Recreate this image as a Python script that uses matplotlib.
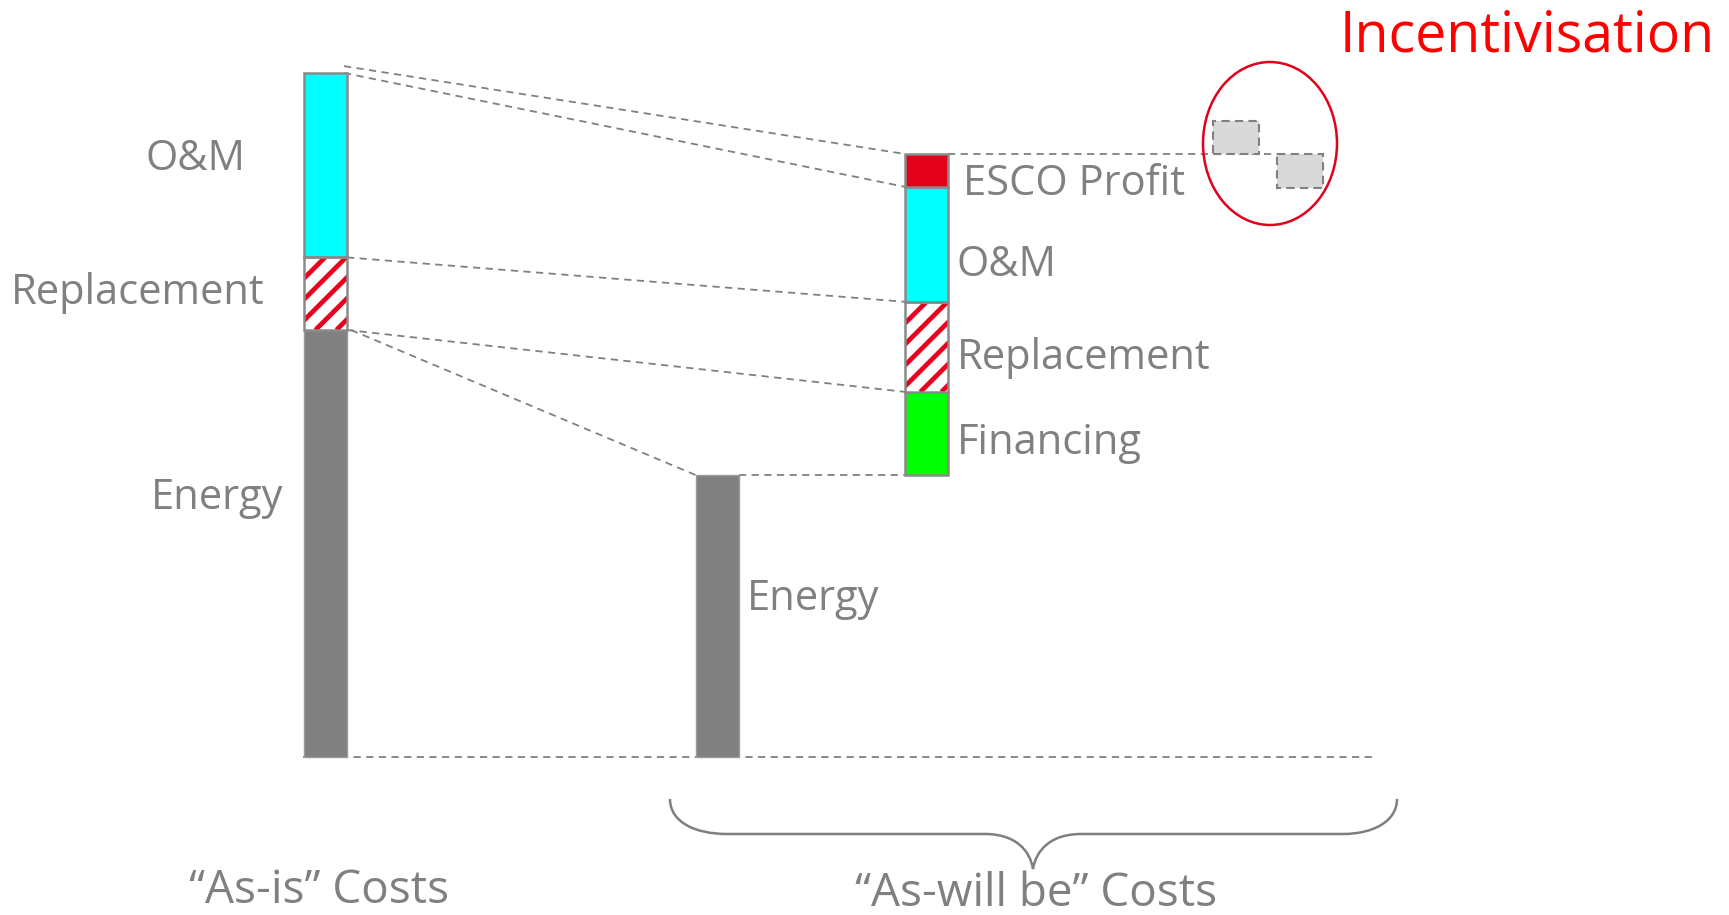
## Cost comparison: "As-is" vs "As-will be" (ESCO model)
import numpy as np
import matplotlib
matplotlib.use('Agg')
import matplotlib.pyplot as plt
from matplotlib.patches import Ellipse, PathPatch
from matplotlib.path import Path

## Data (arbitrary cost units)
as_is_labels = ['Energy', 'Replacement', 'O&M']
as_is_values = [100.0, 17.0, 43.2]

as_will_labels = ['Energy', 'Financing', 'Replacement', 'O&M', 'ESCO Profit']
as_will_values = [66.0, 19.5, 21.1, 26.9, 7.7]

incentive_values = [7.7, -8.0]   # bonus above / penalty below the profit line

group_labels = ['\u201cAs-is\u201d Costs', '\u201cAs-will be\u201d Costs']

## Styles
GREY = '#808080'
EDGE = '#8a8a8a'
seg_colors = {'Energy': '#808080', 'O&M': '#00ffff', 'Financing': '#00ff00',
              'ESCO Profit': '#e2001a', 'Replacement': 'white'}
HATCH_RED = '#e8001c'

plt.rcParams['font.family'] = ['Open Sans', 'DejaVu Sans']

## Pixel layout helpers (canvas is 1729 x 915 px)
W, H = 1729, 915
BASE_PX = 757.0
PX_PER_UNIT = 4.27
def yd(p):
    return (BASE_PX - p) / PX_PER_UNIT

fig = plt.figure(figsize=(W / 100, H / 100), dpi=100)
ax = fig.add_axes([0, 0, 1, 1])
ax.set_xlim(0, W)
ax.set_ylim(yd(H), yd(0))
ax.axis('off')

x_as_is = 325.5
x_energy_new = 717.5
x_as_will = 927.0
bar_w = 43.0


def stripes(x, bottom, height, step=21, lw=3.4):
    # red diagonal stripes clipped to the bar
    rect = ax.bar(x, height, bar_w, bottom=bottom, color='white', linewidth=0, zorder=2)[0]
    x0 = x - bar_w / 2
    h_px = height * PX_PER_UNIT
    for off in np.arange(-h_px - step, bar_w + step, step):
        xs = np.array([x0 + off, x0 + off + h_px + bar_w])
        ys = bottom + (xs - (x0 + off)) / PX_PER_UNIT
        ln, = ax.plot(xs, ys, color=HATCH_RED, linewidth=lw, solid_capstyle='butt', zorder=2)
        ln.set_clip_path(rect)


def draw_segment(x, bottom, height, name):
    if name == 'Replacement':
        stripes(x, bottom, height)
        ax.bar(x, height, bar_w, bottom=bottom, color='none', edgecolor=EDGE,
               linewidth=1.8, zorder=3)
    else:
        ax.bar(x, height, bar_w, bottom=bottom, color=seg_colors[name],
               edgecolor=EDGE if name != 'Energy' else '#9a9a9a',
               linewidth=1.8 if name != 'Energy' else 1.0, zorder=2)


# "As-is" stacked bar
as_is_cum = np.concatenate([[0], np.cumsum(as_is_values)])
for i, name in enumerate(as_is_labels):
    draw_segment(x_as_is, as_is_cum[i], as_is_values[i], name)

# "As-will be": energy on its own, the rest stacked on top of it
as_will_cum = np.concatenate([[0], np.cumsum(as_will_values)])
draw_segment(x_energy_new, 0, as_will_values[0], 'Energy')
for i in range(1, len(as_will_labels)):
    draw_segment(x_as_will, as_will_cum[i], as_will_values[i], as_will_labels[i])

# incentive boxes
total_new = as_will_cum[-1]
ax.bar([1236, 1300], incentive_values, 46, bottom=total_new, color='#d9d9d9',
       edgecolor='#808080', linestyle=(0, (4, 2.5)), linewidth=1.5, zorder=2)

## Dashed guide lines
dash = dict(color='#808080', linestyle=(0, (4, 3)), linewidth=1.3, zorder=1)
lx = x_as_is + bar_w / 2
rx = x_as_will - bar_w / 2
ax.plot([lx - 3, rx], [as_is_cum[3] + 1.6, as_will_cum[5]], **dash)
ax.plot([lx - 3, rx], [as_is_cum[3], as_will_cum[4]], **dash)
ax.plot([lx, rx], [as_is_cum[2], as_will_cum[3]], **dash)
ax.plot([lx, rx], [as_is_cum[1], as_will_cum[2]], **dash)
ax.plot([lx + 4, x_energy_new - bar_w / 2], [as_is_cum[1], as_will_cum[1]], **dash)
ax.plot([x_energy_new + bar_w / 2, rx], [as_will_cum[1], as_will_cum[1]], **dash)
ax.plot([x_as_will + bar_w / 2, 1277], [total_new, total_new], **dash)
ax.plot([303, 1373], [0, 0], **dash)

# incentivisation ellipse
ax.add_patch(Ellipse((1270, yd(143.5)), 134, 163 / PX_PER_UNIT, fill=False,
                     edgecolor='#e2001a', linewidth=1.8, zorder=4))

## Curly brace under the "As-will be" group
pts = [(670, 799), (670, 822), (695, 834), (727, 834),
       (985, 834),
       (1015, 834), (1030, 850), (1033, 869),
       (1036, 850), (1051, 834), (1081, 834),
       (1343, 834),
       (1372, 834), (1397, 822), (1397, 799)]
codes = [Path.MOVETO, Path.CURVE4, Path.CURVE4, Path.CURVE4,
         Path.LINETO,
         Path.CURVE4, Path.CURVE4, Path.CURVE4,
         Path.CURVE4, Path.CURVE4, Path.CURVE4,
         Path.LINETO,
         Path.CURVE4, Path.CURVE4, Path.CURVE4]
brace = Path([(x, yd(y)) for x, y in pts], codes)
ax.add_patch(PathPatch(brace, fill=False, edgecolor='#7f7f7f', linewidth=1.8))

## Labels
fs = 30
ax.text(196, yd(170), 'O&M', ha='center', va='baseline', fontsize=fs, color=GREY)
ax.text(11, yd(304), 'Replacement', ha='left', va='baseline', fontsize=fs, color=GREY)
ax.text(151, yd(509), 'Energy', ha='left', va='baseline', fontsize=fs, color=GREY)

ax.text(963, yd(195), 'ESCO Profit', ha='left', va='baseline', fontsize=fs, color=GREY)
ax.text(957, yd(276), 'O&M', ha='left', va='baseline', fontsize=fs, color=GREY)
ax.text(957, yd(369), 'Replacement', ha='left', va='baseline', fontsize=fs, color=GREY)
ax.text(957, yd(454), 'Financing', ha='left', va='baseline', fontsize=fs, color=GREY)
ax.text(747, yd(610), 'Energy', ha='left', va='baseline', fontsize=fs, color=GREY)

ax.text(319, yd(903), group_labels[0], ha='center', va='baseline', fontsize=33, color=GREY)
ax.text(1036, yd(906), group_labels[1], ha='center', va='baseline', fontsize=33, color=GREY)

ax.text(1527, yd(52), 'Incentivisation', ha='center', va='baseline', fontsize=40,
        color='#ff0000')

fig.savefig('out.png', dpi=100)
